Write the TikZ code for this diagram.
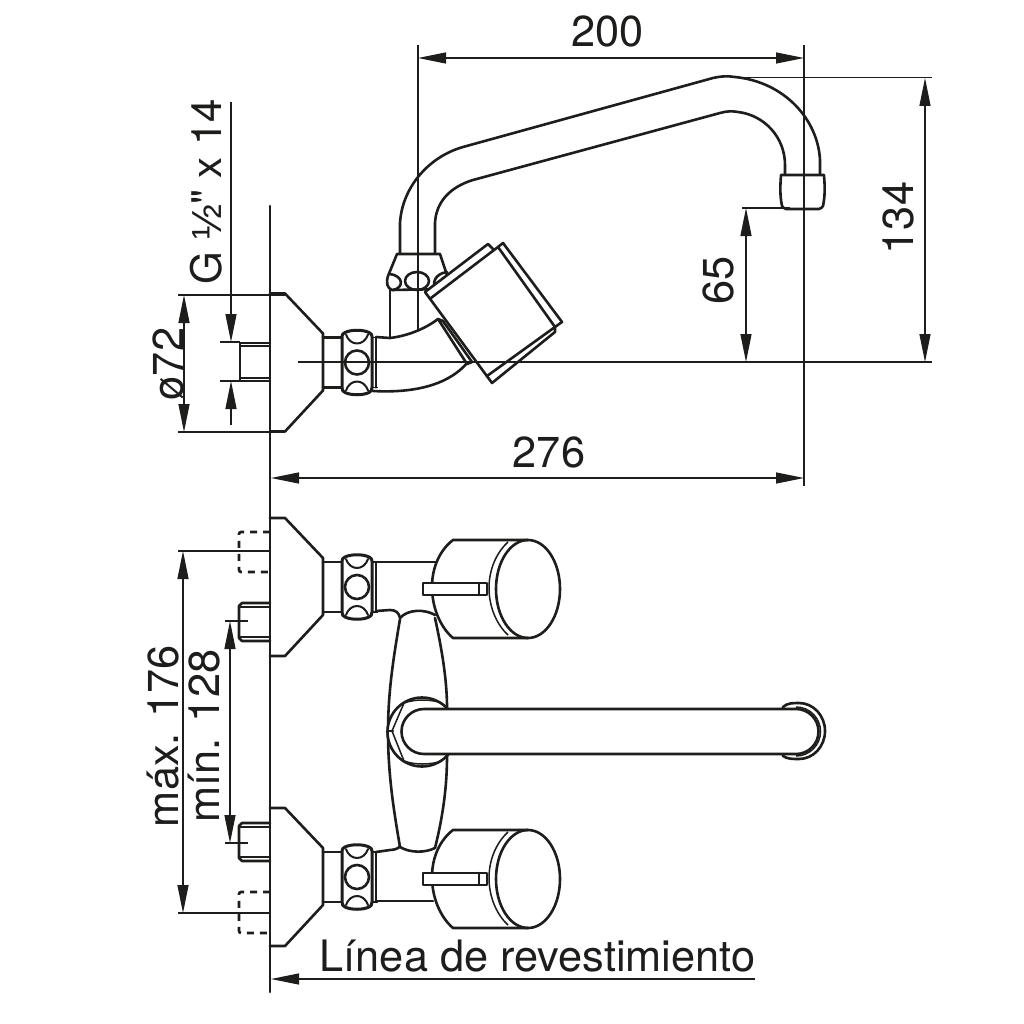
\documentclass[tikz,border=0pt]{standalone}
\usepackage{fontspec}
\setmainfont{TeX Gyre Heros}
\newfontfamily\plainheros{TeX Gyre Heros}
\newfontfamily\halffont{Liberation Sans}
\usetikzlibrary{arrows.meta}
\tikzset{
  body/.style={line width=2.6pt,line join=round,line cap=round,draw=ink},
  thin part/.style={line width=1.5pt,draw=ink},
  dim/.style={line width=1.3pt,draw=ink},
  dimarrow/.style={dim,-{Triangle[length=28pt,width=11pt]}},
  dimarrows/.style={dim,{Triangle[length=28pt,width=11pt]}-{Triangle[length=28pt,width=11pt]}},
  hidden/.style={line width=2.6pt,draw=ink,dash pattern=on 7pt off 6pt,rounded corners=2pt},
  label/.style={text=ink,font=\fontsize{43.3}{43}\selectfont,inner sep=0pt},
  labelv/.style={label,rotate=90}
}
\definecolor{ink}{HTML}{1D1D1B}
% base plate, collar and nut, drawn for the unit whose axis is at y=587
\newcommand{\valvebase}{%
  \draw[body] (270,518) -- (285,518) -- (323,558) -- (323,615) -- (285,656) -- (270,656);
  \draw[body] (323,562) -- (342,562) (323,612) -- (342,612);
  \draw[body,line width=3pt,fill=white] (345,557) .. controls (351,554) and (363,554) .. (369,557)
     .. controls (371,558) and (372,559) .. (372,561) -- (372,612)
     .. controls (372,615) and (371,616) .. (369,617)
     .. controls (363,620) and (351,620) .. (345,617)
     .. controls (343,616) and (342,615) .. (342,612) -- (342,561)
     .. controls (342,559) and (343,558) .. (345,557) -- cycle;
  \draw[body] (357,587) circle (12);
  \draw[body,line width=2pt] (346,559) .. controls (350,571) and (364,571) .. (368,559);
  \draw[body,line width=2pt] (346,615) .. controls (350,603) and (364,603) .. (368,615);
  \draw[body] (376,562) -- (376,612);
  \draw[thin part] (372,562) -- (378,562) (372,612) -- (378,612);
}
% front-view knob
\newcommand{\valveknob}{%
  \draw[body,fill=white] (453,540) -- (528,540) arc[start angle=-90,end angle=90,x radius=32,y radius=49]
     -- (453,638) .. controls (440,627) and (432,607) .. (432,587) .. controls (432,567) and (440,550) .. (453,540) -- cycle;
  \draw[body] (528,540) arc[start angle=-90,end angle=-270,x radius=32,y radius=49];
  \draw[thin part] (508,542) .. controls (496,553) and (489,570) .. (489,588) .. controls (489,606) and (496,624) .. (508,635);
  \draw[body,fill=white] (423,583) rectangle (487,595);
  \draw[body] (479,583) -- (479,595);
}
\begin{document}
\begin{tikzpicture}[x=1pt,y=-1pt]
\useasboundingbox (0,0) rectangle (1024,1024);
\fill[white] (0,0) rectangle (1024,1024);

%% ---- side view ----
\begin{scope}[shift={(0,-224.5)}]
  \valvebase
\end{scope}
% thread stub
\draw[body] (270,343) -- (240,343) -- (240,381) -- (270,381);
\draw[thin part] (240,346) -- (270,346) (240,378) -- (270,378);
% spout
\draw[body] (400,254) -- (400,223) .. controls (402,188) and (428,157) .. (463,147)
   -- (713,78) .. controls (722,76) and (728,76) .. (735,77)
   .. controls (785,82) and (818,120) .. (820,160) -- (820,174);
\draw[body] (435,254) -- (435,223) .. controls (436,202) and (450,187) .. (473,180)
   -- (720,113) .. controls (727,111) and (732,111) .. (738,112)
   .. controls (764,115) and (785,137) .. (785,165) -- (785,174);
% aerator
\draw[body] (781,175) -- (824,175) .. controls (825,188) and (825,196) .. (823,206)
   .. controls (822,208) and (821,208) .. (819,209) -- (786,209)
   .. controls (784,208) and (783,208) .. (782,206) .. controls (780,196) and (780,188) .. (781,175) -- cycle;
% spout nut
\draw[body,fill=white] (397,254) -- (440,254) -- (447,275) -- (447,289) -- (392,290)
   .. controls (387,288) and (386,283) .. (388,276) -- cycle;
\draw[body] (390,274) .. controls (404,276) and (404,288) .. (393,290);
\draw[body] (417,281) ellipse[x radius=12,y radius=9];
\draw[body] (447,272) .. controls (434,274) and (432,284) .. (436,289);
% stem and elbow
\draw[body] (390,290) -- (390,338);
\draw[body] (376,337) -- (390,338) .. controls (407,336) and (425,329) .. (438,319);
\draw[body] (373,391) .. controls (410,393) and (447,387) .. (468,362);
% handle
\draw[body,fill=white] (438,319) -- (443,321) -- (472,362) -- (467,364) -- cycle;
\draw[body,fill=white] (425,292) -- (488,244) -- (494,250) -- (498,247) -- (503,243) -- (562,322) -- (555,327)
   -- (555,332) -- (492,383) -- cycle;
\draw[body] (431,298) -- (494,250);
\draw[body] (498,247) -- (555,327) -- (487,376);
% axis and centre line
\draw[dim] (418,45) -- (418,330);
\draw[dim] (298,362) -- (932,362);

%% ---- front view ----
\valvebase
\begin{scope}[shift={(0,290)}]
  \valvebase
\end{scope}
% bodies behind knobs
\draw[body] (376,562) -- (436,562);
\draw[body] (376,611) -- (390,610) .. controls (396,610) and (399,613) .. (400,618);
\draw[body] (400,618) .. controls (408,609) and (425,609) .. (435,615);
\draw[body] (376,901) -- (433,901);
\draw[body] (376,852) -- (390,850) .. controls (395,850) and (399,848) .. (400,846);
\draw[body] (400,847) .. controls (410,853) and (425,853) .. (435,848);
% central post
\draw[body] (400,619) .. controls (394,655) and (388,690) .. (388,732)
   .. controls (388,775) and (394,812) .. (400,847);
\draw[body] (435,618) .. controls (442,650) and (447,680) .. (447,708);
\draw[body] (447,756) .. controls (447,790) and (442,820) .. (435,848);
% knobs
\valveknob
\begin{scope}[shift={(0,290)}]
  \valveknob
\end{scope}
% stubs
\draw[body] (270,603) -- (242,603) -- (239,606) -- (239,638) -- (242,641) -- (270,641);
\draw[thin part] (240,607) -- (270,607) (240,637) -- (270,637);
\draw[body] (270,823) -- (242,823) -- (239,826) -- (239,858) -- (242,861) -- (270,861);
\draw[thin part] (240,827) -- (270,827) (240,857) -- (270,857);
\draw[hidden] (270,532) -- (239,532) -- (239,572) -- (270,572);
\draw[hidden] (270,892) -- (239,892) -- (239,933) -- (270,933);
% hex nut and swing spout
\draw[body,fill=white] (422,732) circle (34.5);
\draw[thin part] (392,731) -- (404,703) .. controls (415,699) and (430,699) .. (442,703);
\draw[thin part] (392,731) -- (404,761) .. controls (415,765) and (430,765) .. (442,761);
\draw[body] (388,731) -- (393,731);
% spout end cap
\draw[body,fill=white] (783,707) .. controls (787,703) and (793,703) .. (799,703)
   arc[start angle=-90,end angle=90,x radius=26,y radius=28] .. controls (793,759) and (787,759) .. (783,756) -- cycle;
\draw[body,fill=white] (424,709) -- (796,709) arc[start angle=-90,end angle=90,radius=22.5]
   -- (424,754) arc[start angle=90,end angle=270,radius=22.5] -- cycle;
\draw[thin part] (796,707) arc[start angle=-90,end angle=90,radius=24.5];

%% ---- wall line ----
\draw[body] (270,206) -- (270,992);

%% ---- dimensions ----
% 200
\draw[dim] (804,45) -- (804,486);
\coordinate (d200a) at (418,58); \coordinate (d200b) at (804,58);
\draw[dimarrows] (d200a) -- (d200b);
\node[label] (t200) at (607.5,31) {200};
% 134
\draw[dim] (733,77.5) -- (932,77.5);
\coordinate (d134a) at (925,78); \coordinate (d134b) at (925,362);
\draw[dimarrows] (d134a) -- (d134b);
\node[labelv] (t134) at (898,218) {134};
% 65
\draw[dim] (742,208) -- (790,208);
\coordinate (d65a) at (746,208); \coordinate (d65b) at (746,362);
\draw[dimarrows] (d65a) -- (d65b);
\node[labelv] (t65) at (718,280) {65};
% 276
\coordinate (d276a) at (271,478); \coordinate (d276b) at (804,478);
\draw[dimarrows] (d276a) -- (d276b);
\node[label] (t276) at (549,452) {276};
% phi 72
\draw[dim] (178,295) -- (285,295) (178,432) -- (285,432);
\coordinate (d72a) at (184,295); \coordinate (d72b) at (184,432);
\draw[dimarrows] (d72a) -- (d72b);
\node[labelv] (t72) at (168,364) {ø72};
% G 1/2
\draw[dim] (220,342) -- (240,342) (220,381) -- (240,381);
\coordinate (dga) at (231,102); \coordinate (dgb) at (231,342);
\coordinate (dgc) at (231,425); \coordinate (dgd) at (231,381);
\draw[dimarrow] (dga) -- (dgb);
\draw[dimarrow] (dgc) -- (dgd);
\node[labelv] (tg) at (206,191.5) {\fontsize{42}{42}\selectfont\plainheros G {\halffont ½}" x 14};
% max 176
\draw[dim] (178,551) -- (270,551) (178,913) -- (270,913);
\coordinate (dmaxa) at (183,551); \coordinate (dmaxb) at (183,913);
\draw[dimarrows] (dmaxa) -- (dmaxb);
\node[labelv] (tmax) at (163,736) {máx. 176};
% min 128
\draw[dim] (225,621) -- (248,621) (225,843) -- (248,843);
\coordinate (dmina) at (230,621); \coordinate (dminb) at (230,843);
\draw[dimarrows] (dmina) -- (dminb);
\node[labelv] (tmin) at (204,736) {mín. 128};
% Linea de revestimiento
\coordinate (drevb) at (755,979); \coordinate (dreva) at (271,979);
\draw[dimarrow] (drevb) -- (dreva);
\node[label] (trev) at (537.5,956) {Línea de revestimiento};
\end{tikzpicture}
\end{document}
